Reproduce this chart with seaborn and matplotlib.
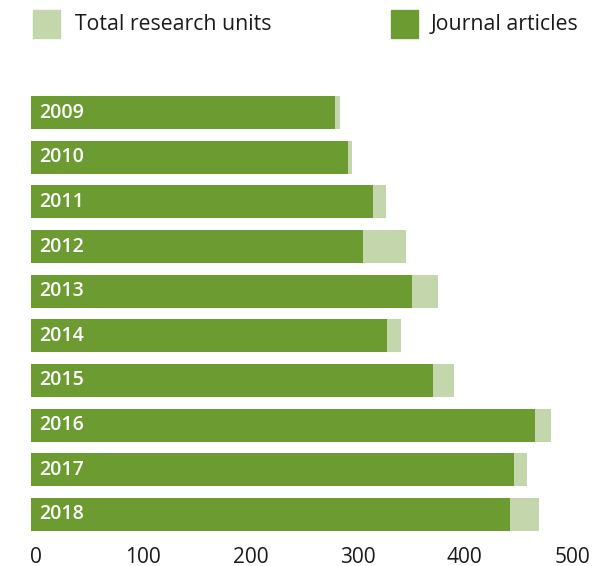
import matplotlib
matplotlib.use("Agg")
import matplotlib.pyplot as plt
import matplotlib.transforms as mtransforms
import seaborn as sns
import pandas as pd
from matplotlib.patches import Rectangle

years = ["2009", "2010", "2011", "2012", "2013", "2014", "2015", "2016", "2017", "2018"]
total_units = [288, 299, 331, 350, 380, 345, 395, 485, 463, 474]
journal_articles = [284, 296, 319, 310, 355, 332, 375, 470, 451, 447]
xticks = [0, 100, 200, 300, 400, 500]

DARK = "#6C9C31"
LIGHT = "#C4D6AC"

sns.set_theme(style="white")
plt.rcParams["font.family"] = ["Open Sans", "DejaVu Sans"]

df = pd.DataFrame({"year": years, "total": total_units, "journal": journal_articles})

fig = plt.figure(figsize=(6.12, 5.66), dpi=100)
ax = fig.add_axes([31 / 612, 0.0516, (567 - 31) / 612, 0.8406 - 0.0516])

sns.barplot(data=df, y="year", x="total", color=LIGHT, width=0.74, orient="h",
            saturation=1, linewidth=0, ax=ax)
sns.barplot(data=df, y="year", x="journal", color=DARK, width=0.74, orient="h",
            saturation=1, linewidth=0, ax=ax)

ax.set_xlim(0, 500)
ax.set_xticks(xticks)
ax.set_xticklabels([str(t) for t in xticks], fontsize=15, color="#1a1a1a")
ax.tick_params(axis="x", length=0, pad=7)
shift = mtransforms.ScaledTranslation(5 / 100, 0, fig.dpi_scale_trans)
for lab in ax.get_xticklabels():
    lab.set_transform(lab.get_transform() + shift)
ax.set_yticks([])
ax.set_xlabel("")
ax.set_ylabel("")
for s in ax.spines.values():
    s.set_visible(False)

for i, y in enumerate(years):
    ax.text(7.8, i, y, color="white", fontsize=14, fontweight="semibold",
            va="center", ha="left")

# legend
fig.patches.append(Rectangle((33 / 612, 1 - 38 / 566), 27 / 612, 28 / 566,
                             transform=fig.transFigure, color=LIGHT))
fig.text(75 / 612, 1 - 24 / 566, "Total research units", fontsize=15.3,
         va="center", ha="left", color="#1a1a1a")
fig.patches.append(Rectangle((391 / 612, 1 - 38 / 566), 27 / 612, 28 / 566,
                             transform=fig.transFigure, color=DARK))
fig.text(431 / 612, 1 - 24 / 566, "Journal articles", fontsize=15.3,
         va="center", ha="left", color="#1a1a1a")

fig.savefig("out.png", dpi=100)
